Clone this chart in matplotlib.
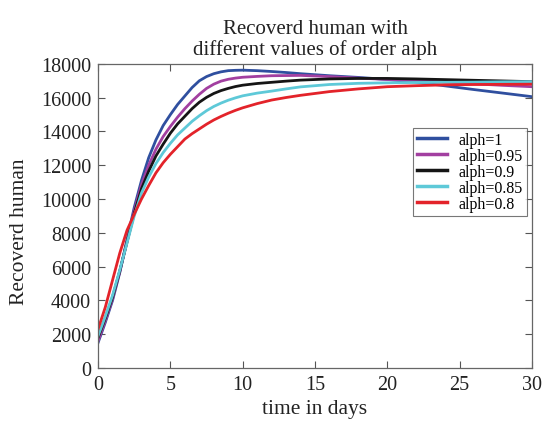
import matplotlib
matplotlib.use("Agg")
import matplotlib.pyplot as plt

# time axis (days)
t = [0, 0.5, 1, 1.5, 2, 2.5, 3, 3.5, 4, 4.5, 5, 5.5, 6, 6.5, 7, 7.5, 8, 8.5, 9, 9.5, 10,
     11, 12, 13, 14, 16, 18, 20, 22, 24, 26, 28, 30]

# recovered humans for each order alph
r_a100 = [1500, 2700, 4000, 5650, 7600, 9500, 11100, 12450, 13500, 14350, 15000, 15600, 16100,
          16600, 17000, 17250, 17420, 17530, 17600, 17620, 17630, 17600, 17550, 17490, 17420,
          17300, 17200, 17080, 16920, 16700, 16480, 16270, 16060]
r_a095 = [1600, 2800, 4100, 5700, 7500, 9300, 10850, 12000, 12950, 13700, 14300, 14850, 15350,
          15800, 16200, 16550, 16800, 16980, 17090, 17160, 17210, 17260, 17300, 17310, 17320,
          17250, 17160, 17080, 17000, 16930, 16820, 16730, 16650]
r_a090 = [1800, 2950, 4200, 5750, 7450, 9150, 10600, 11650, 12550, 13250, 13900, 14450, 14900,
          15350, 15730, 16020, 16250, 16420, 16550, 16660, 16740, 16840, 16910, 16980, 17040,
          17110, 17140, 17140, 17110, 17070, 17030, 16990, 16950]
r_a085 = [1900, 3050, 4300, 5800, 7400, 9000, 10350, 11300, 12100, 12750, 13300, 13800, 14200,
          14600, 14930, 15230, 15480, 15680, 15850, 15990, 16110, 16270, 16390, 16520, 16640,
          16780, 16850, 16880, 16900, 16910, 16920, 16940, 16950]
r_a080 = [2300, 3600, 5200, 6800, 8150, 9100, 10000, 10800, 11550, 12150, 12650, 13100, 13550,
          13870, 14150, 14430, 14680, 14890, 15080, 15250, 15400, 15650, 15860, 16010, 16140,
          16360, 16520, 16650, 16710, 16760, 16780, 16790, 16800]

labels = ["alph=1", "alph=0.95", "alph=0.9", "alph=0.85", "alph=0.8"]
colors = ["#2f4f9f", "#a23fa0", "#151515", "#5ec9d8", "#e3232a"]
series = [r_a100, r_a095, r_a090, r_a085, r_a080]

plt.rcParams["font.family"] = ["Liberation Serif", "DejaVu Serif"]

fig = plt.figure(figsize=(5.45, 4.27), dpi=100)
ax = fig.add_axes([0.18, 0.136, 0.796, 0.712])

for y, lab, c in zip(series, labels, colors):
    ax.plot(t, y, color=c, lw=2.0, label=lab)

ax.set_xlim(0, 30)
ax.set_ylim(0, 18000)
ax.set_xticks([0, 5, 10, 15, 20, 25, 30])
ax.set_yticks(range(0, 18001, 2000))
ax.tick_params(direction="in", top=True, right=True, labelsize=14.5,
               length=5, width=0.8, color="#555555", labelcolor="#222222", pad=5)
for s in ax.spines.values():
    s.set_color("#666666")
    s.set_linewidth(0.9)

ax.set_xlabel("time in days", fontsize=15.5, color="#222222", labelpad=4)
ax.set_ylabel("Recoverd human", fontsize=15.5, color="#222222")
ax.yaxis.set_label_coords(-0.16, 0.45)
ax.set_title("Recoverd human with\ndifferent values of order alph",
             fontsize=15, color="#222222", linespacing=1.1, pad=7)

leg = ax.legend(loc="upper right", bbox_to_anchor=(0.988, 0.79), fontsize=11.5,
                frameon=True, fancybox=False, handlelength=1.9, handletextpad=0.7,
                labelspacing=0.0, borderpad=0.25, borderaxespad=0)
leg.get_frame().set_edgecolor("#555555")
leg.get_frame().set_linewidth(0.8)
for line in leg.get_lines():
    line.set_linewidth(2.5)

fig.savefig("out.png", dpi=100)
